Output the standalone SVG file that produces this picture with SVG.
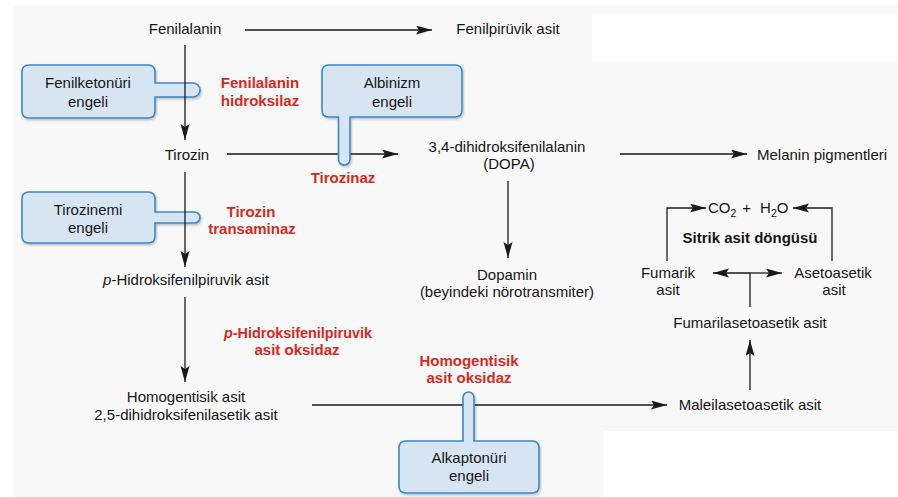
<svg xmlns="http://www.w3.org/2000/svg" width="898" height="497" viewBox="0 0 898 497">
<defs>
<style>
text{font-family:"Liberation Sans",Arial,sans-serif;font-size:15px;fill:#161616;text-anchor:middle}
.red{fill:#d42a1f;font-weight:bold;font-size:15px}
.bold{font-weight:bold}
.box{fill:#d7e5f2;stroke:#3a88cc;stroke-width:1.6;filter:url(#sh)}
.ln{stroke:#1a1a1a;stroke-width:1.3;fill:none}
.arr{marker-end:url(#ah)}
</style>
<marker id="ah" markerUnits="userSpaceOnUse" markerWidth="18" markerHeight="10" refX="16" refY="4.5" orient="auto">
<path d="M0,0 L16,4.5 L0,9 L3,4.5 Z" fill="#1a1a1a"/>
</marker>
<filter id="sh" x="-10%" y="-10%" width="130%" height="140%">
<feDropShadow dx="1" dy="1.5" stdDeviation="1" flood-color="#000" flood-opacity="0.25"/>
</filter>
</defs>
<rect x="0" y="0" width="898" height="497" fill="#ffffff"/>
<rect x="14" y="5" width="884" height="492" fill="#f8f8f8"/>
<rect x="592" y="14" width="306" height="48" fill="#ffffff"/>
<rect x="603" y="431" width="295" height="66" fill="#ffffff"/>

<g id="fenilketonuri">
<path class="box" d="M29,65 H148 Q155,65 155,72 V83 H193 A7,7 0 0 1 193,97 H155 V111 Q155,118 148,118 H29 Q22,118 22,111 V72 Q22,65 29,65 Z"/>
<text x="88" y="88">Fenilketonüri</text>
<text x="88" y="107">engeli</text>
</g>
<g id="tirozinemi">
<path class="box" d="M29,192 H148 Q155,192 155,199 V212 H194.5 A5.5,5.5 0 0 1 194.5,223 H155 V236 Q155,243 148,243 H29 Q22,243 22,236 V199 Q22,192 29,192 Z"/>
<text x="88" y="215">Tirozinemi</text>
<text x="88" y="233">engeli</text>
</g>

<g id="connectors">
<line class="ln arr" x1="245" y1="30" x2="432" y2="30"/>
<line class="ln arr" x1="185" y1="45" x2="185" y2="140"/>
<line class="ln arr" x1="227" y1="154" x2="398" y2="154"/>
<line class="ln arr" x1="620" y1="154" x2="747" y2="154"/>
<line class="ln arr" x1="508" y1="181" x2="508" y2="258"/>
<line class="ln arr" x1="185" y1="172" x2="185" y2="267"/>
<line class="ln arr" x1="185" y1="297" x2="185" y2="382"/>
<line class="ln arr" x1="312" y1="405" x2="667" y2="405"/>
<line class="ln arr" x1="750" y1="390" x2="750" y2="340"/>
<line class="ln" x1="750" y1="307" x2="750" y2="273"/>
<line class="ln arr" x1="750" y1="273" x2="713" y2="273"/>
<line class="ln arr" x1="750" y1="273" x2="782" y2="273"/>
<polyline class="ln arr" points="667,261 667,208 706,208"/>
<polyline class="ln arr" points="832,261 832,208 793,208"/>
</g>

<g id="albinizm">
<path class="box" d="M329,65 H455 Q462,65 462,72 V110 Q462,117 455,117 H350 V159.25 A5.75,5.75 0 0 1 338.5,159.25 V117 H329 Q322,117 322,110 V72 Q322,65 329,65 Z"/>
<text x="392" y="88">Albinizm</text>
<text x="392" y="107">engeli</text>
</g>
<g id="alkaptonuri">
<path class="box" d="M406,441 H463 V397.5 A5.5,5.5 0 0 1 474,397.5 V441 H532 Q539,441 539,448 V486 Q539,493 532,493 H406 Q399,493 399,486 V448 Q399,441 406,441 Z"/>
<text x="469" y="463">Alkaptonüri</text>
<text x="469" y="481">engeli</text>
</g>

<g id="fenilalanin"><text x="185" y="34">Fenilalanin</text></g>
<g id="fenilpiruvik"><text x="508" y="34">Fenilpirüvik asit</text></g>
<g id="tirozin"><text x="187" y="160">Tirozin</text></g>
<g id="dopa"><text x="507" y="152">3,4-dihidroksifenilalanin</text><text x="509" y="169">(DOPA)</text></g>
<g id="melanin"><text x="757" y="160" style="text-anchor:start">Melanin pigmentleri</text></g>
<g id="dopamin"><text x="507" y="280">Dopamin</text><text x="507" y="297">(beyindeki nörotransmiter)</text></g>
<g id="phpp"><text x="186" y="285"><tspan font-style="italic">p</tspan>-Hidroksifenilpiruvik asit</text></g>
<g id="homogentisik"><text x="186" y="402">Homogentisik asit</text><text x="186" y="420">2,5-dihidroksifenilasetik asit</text></g>
<g id="maleil"><text x="750" y="410">Maleilasetoasetik asit</text></g>
<g id="fumaril"><text x="750" y="328">Fumarilasetoasetik asit</text></g>
<g id="fumarik"><text x="668" y="278">Fumarik</text><text x="668" y="295">asit</text></g>
<g id="asetoasetik"><text x="833" y="278">Asetoasetik</text><text x="834" y="295">asit</text></g>
<g id="co2h2o"><text x="708" y="213" style="text-anchor:start">CO<tspan font-size="10.5" dy="4">2</tspan><tspan dy="-4" dx="6">+</tspan><tspan dx="9">H</tspan><tspan font-size="10.5" dy="4">2</tspan><tspan dy="-4">O</tspan></text></g>
<g id="sitrik"><text class="bold" x="750" y="243">Sitrik asit döngüsü</text></g>

<g id="enzymes">
<text class="red" x="260" y="88">Fenilalanin</text>
<text class="red" x="260" y="106">hidroksilaz</text>
<text class="red" x="343" y="183">Tirozinaz</text>
<text class="red" x="251" y="217">Tirozin</text>
<text class="red" x="252" y="234">transaminaz</text>
<text class="red" x="298" y="338" style="font-size:14.4px"><tspan font-style="italic">p</tspan>-Hidroksifenilpiruvik</text>
<text class="red" x="297" y="355">asit oksidaz</text>
<text class="red" x="469" y="366">Homogentisik</text>
<text class="red" x="469" y="383">asit oksidaz</text>
</g>
</svg>
